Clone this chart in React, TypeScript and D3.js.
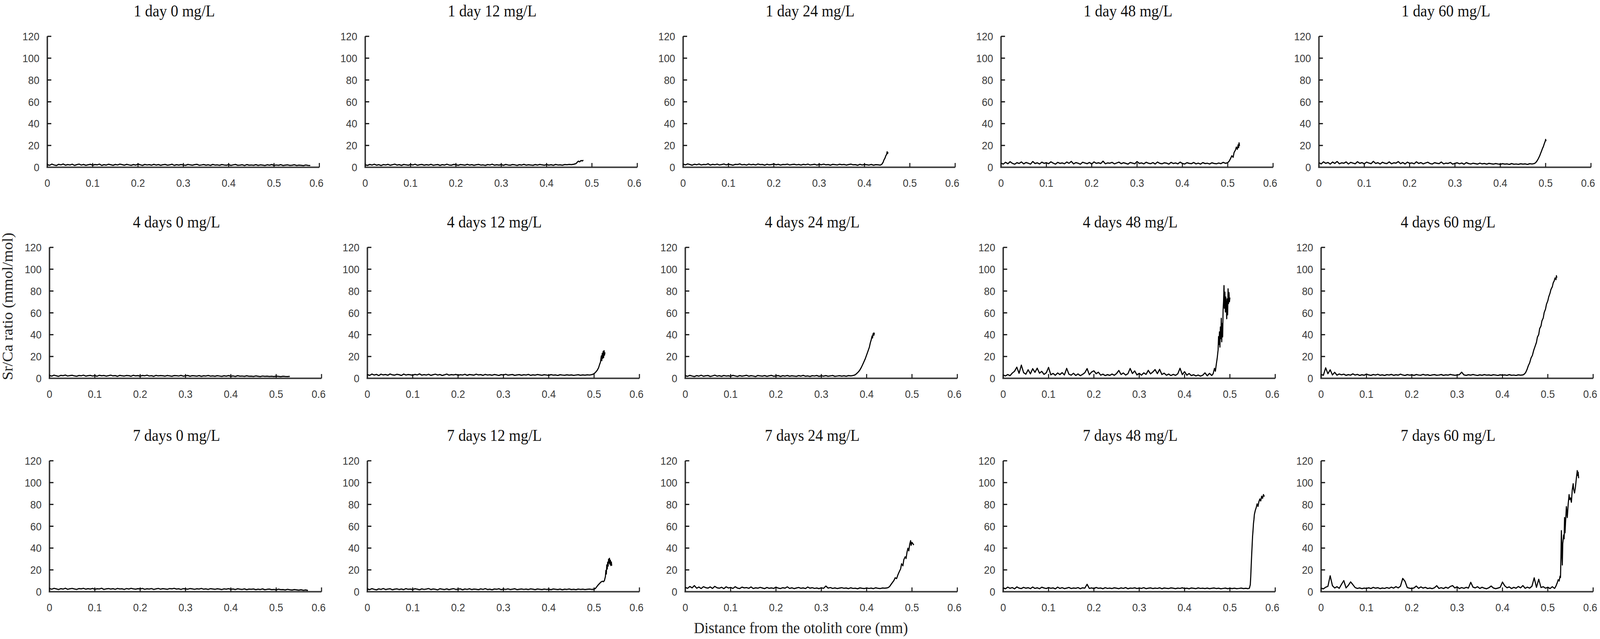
import React from "react";
import * as d3 from "d3";

// ---------- data (Sr/Ca ratio, mmol/mol) ----------
// base arrays: values every DX mm from 0; tail arrays: [distance mm, value] in the rising part
const DX = 0.005;

const days = ["1 day", "4 days", "7 days"];
const doses = ["0 mg/L", "12 mg/L", "24 mg/L", "48 mg/L", "60 mg/L"];
const xTicks = [0, 0.1, 0.2, 0.3, 0.4, 0.5, 0.6];
const yTicks = [0, 20, 40, 60, 80, 100, 120];

const base_1d_0 = [2.4,1.8,2.9,2.1,1.6,2.7,2.2,3.0,1.9,2.5,2.1,2.8,1.7,2.4,2.9,2.0,2.6,1.8,2.3,2.7,1.9,2.5,2.2,2.9,1.7,2.4,2.0,2.8,2.3,1.8,2.6,2.1,2.9,2.4,1.9,2.7,2.2,1.8,2.5,2.0,2.8,2.3,1.7,2.6,2.1,2.4,1.9,2.7,2.0,2.5,1.8,2.3,2.6,1.9,2.2,2.8,1.7,2.4,2.0,2.5,2.1,1.8,2.6,2.2,1.9,2.4,2.7,1.8,2.1,2.5,1.9,2.3,1.7,2.6,2.0,2.2,1.8,2.5,2.1,1.9,2.4,1.7,2.2,2.6,1.8,2.0,2.3,1.6,2.5,1.9,2.1,1.8,2.4,1.7,2.2,2.0,1.6,2.3,1.9,2.5,1.7,2.1,1.8,2.4,1.6,2.0,2.2,1.7,1.9,2.3,1.6,2.0,1.8,1.5,2.1,1.7,1.6];
const tail_1d_0: number[][] = [];

const base_1d_12 = [2.3,1.7,2.6,2.0,2.8,1.9,2.4,1.6,2.5,2.1,2.7,1.8,2.3,2.9,2.0,2.4,1.7,2.6,2.2,1.9,2.5,2.1,2.8,1.8,2.3,2.6,1.9,2.4,2.0,2.7,1.8,2.2,2.5,1.7,2.4,2.0,2.8,2.1,1.9,2.6,2.3,1.8,2.5,2.2,1.9,2.7,2.0,2.4,1.8,2.3,2.6,2.0,2.2,1.7,2.5,2.1,2.8,1.9,2.3,2.0,2.4,1.8,2.6,2.1,1.9,2.5,2.2,1.7,2.4,2.0,2.7,1.9,2.3,2.1,1.8,2.5,2.0,2.6,2.2,1.9,2.4,2.0,2.3,1.8,2.6,2.1,2.2,1.9,2.5,2.3,2.6,2.4,2.8];
const tail_1d_12 = [[0.465,3.4],[0.468,4.8],[0.47,5.6],[0.473,5.0],[0.476,6.2],[0.479,5.8],[0.481,6.6]];

const base_1d_24 = [2.9,2.2,3.1,2.5,1.9,2.8,2.3,3.0,2.1,2.6,2.4,3.2,2.0,2.7,2.3,2.9,2.1,2.5,3.0,2.2,2.8,2.4,1.9,2.7,2.5,3.1,2.2,2.6,2.0,2.9,2.3,2.7,2.1,3.0,2.4,2.6,1.9,2.8,2.2,2.5,3.0,2.3,2.7,2.0,2.6,2.4,2.9,2.1,2.5,2.8,2.2,2.6,2.0,2.7,2.3,2.9,2.1,2.4,2.8,2.0,2.6,2.3,2.9,2.2,2.5,1.9,2.7,2.4,2.1,2.8,2.3,2.6,2.0,2.5,2.9,2.2,2.4,1.8,2.7,2.1,2.5,2.3,2.0,2.6,1.9,2.4,2.2,2.0];
const tail_1d_24 = [[0.438,2.6],[0.441,4.5],[0.443,6.8],[0.445,8.2],[0.447,10.5],[0.449,12.0],[0.45,14.2],[0.451,12.6],[0.452,13.8]];

const base_1d_48 = [3.8,2.9,4.6,3.2,5.1,3.6,2.8,4.2,3.5,4.9,3.1,4.4,3.7,2.9,5.3,3.4,4.1,3.0,4.7,3.6,4.2,3.3,5.0,3.8,2.9,4.5,3.5,4.0,3.2,4.8,3.6,5.4,3.1,4.3,3.7,2.8,4.6,3.9,3.3,4.4,3.0,4.9,3.6,4.1,3.4,5.6,3.2,4.0,3.7,4.5,3.1,3.9,4.7,3.3,4.2,3.6,2.9,4.4,3.8,3.2,5.2,3.5,4.0,3.1,4.6,3.7,3.3,4.3,3.0,4.8,3.6,3.2,4.1,3.8,2.9,4.5,3.4,4.0,3.1,4.7,3.5,3.0,4.2,3.6,3.3,4.4,3.1,3.8,2.9,4.3,3.4,3.7,3.0,4.1,3.5,3.2,3.9,3.3,4.5,3.6,4.2];
const tail_1d_48 = [[0.503,5.5],[0.506,7.8],[0.509,10.5],[0.512,9.2],[0.514,13.5],[0.517,15.8],[0.519,18.5],[0.521,16.4],[0.523,20.6],[0.524,18.0],[0.525,22.4],[0.526,19.5]];

const base_1d_60 = [4.2,3.1,5.0,3.6,4.4,2.9,4.8,3.5,5.3,3.2,4.1,3.7,4.9,3.0,4.5,3.8,3.2,5.1,3.6,4.3,3.1,4.7,3.9,3.3,5.4,3.5,4.2,3.0,4.6,3.7,3.4,4.9,3.2,4.1,3.8,5.2,3.3,4.4,3.0,4.7,3.6,4.0,3.2,5.0,3.5,4.3,3.1,3.9,4.6,3.4,3.0,4.2,3.7,3.3,4.8,3.1,3.8,3.5,4.4,2.9,3.6,4.1,3.2,3.9,2.8,4.3,3.4,3.0,3.7,3.3,2.9,3.8,3.1,3.5,2.8,3.6,3.2,2.9,3.4,3.0,2.7,3.3,2.9,3.1,2.6,3.4,2.8,3.0,2.7,3.2,2.9,3.1,2.6,3.3,3.0,3.4];
const tail_1d_60 = [[0.478,4.2],[0.481,5.8],[0.484,8.0],[0.487,10.6],[0.489,12.8],[0.491,14.9],[0.493,17.2],[0.495,19.0],[0.497,21.6],[0.499,23.8],[0.5,25.5],[0.501,24.0]];

const base_4d_0 = [2.6,2.0,2.9,2.3,1.8,2.7,2.4,3.0,2.1,2.5,2.8,2.2,1.9,2.6,2.3,2.9,2.0,2.4,2.7,2.1,2.5,1.9,2.8,2.3,2.6,2.0,2.4,2.9,2.2,2.5,1.8,2.7,2.3,2.1,2.6,2.4,1.9,2.8,2.2,2.5,2.0,2.6,2.3,2.9,2.1,2.4,1.8,2.7,2.2,2.5,2.3,2.0,2.6,2.2,1.9,2.5,2.4,2.1,2.7,2.0,2.3,2.6,1.9,2.4,2.2,2.0,2.5,1.8,2.3,2.1,2.6,2.0,2.2,1.9,2.4,2.1,1.8,2.3,2.0,2.5,1.9,2.2,1.7,2.4,2.0,2.1,1.8,2.3,1.9,2.0,1.7,2.2,1.9,1.6,2.1,1.8,2.0,1.7,1.9,1.6,2.0,1.8,1.5,1.9,1.7,1.6,1.8];
const tail_4d_0: number[][] = [];

const base_4d_12 = [3.4,2.7,3.9,3.0,3.6,2.5,3.8,3.1,3.5,2.8,4.0,3.2,2.9,3.7,3.3,2.6,3.9,3.0,3.5,3.2,2.8,3.6,3.1,4.1,2.9,3.4,3.0,3.7,2.7,3.3,3.8,3.0,3.5,2.6,3.2,3.9,2.9,3.4,3.1,3.6,2.8,3.3,3.0,3.7,2.7,3.5,3.2,2.9,3.8,3.1,3.4,2.7,3.6,3.0,3.3,2.8,3.5,3.1,2.6,3.4,3.0,3.7,2.9,3.2,3.5,2.7,3.1,3.4,2.8,3.3,3.0,3.6,2.7,3.2,2.9,3.5,3.1,2.8,3.3,3.0,2.7,3.4,2.9,3.1,2.6,3.3,3.0,2.8,3.2,2.9,3.1,2.7,3.0,3.3,2.8,3.1,2.9,3.2,3.0,3.4];
const tail_4d_12 = [[0.498,3.8],[0.501,4.6],[0.504,5.9],[0.507,7.4],[0.51,9.8],[0.512,12.5],[0.514,14.8],[0.516,20.5],[0.517,16.2],[0.518,22.8],[0.519,18.4],[0.52,24.6],[0.521,19.0],[0.522,25.3],[0.523,21.2],[0.524,23.8]];

const base_4d_24 = [2.4,1.8,2.7,2.1,1.6,2.5,2.0,2.8,1.9,2.3,2.6,1.7,2.2,2.9,2.0,2.4,1.8,2.6,2.1,2.3,1.9,2.7,2.2,1.7,2.5,2.0,2.3,2.8,1.9,2.4,2.1,1.6,2.6,2.2,2.0,2.5,1.8,2.3,2.7,1.9,2.2,2.5,1.7,2.4,2.0,2.6,1.9,2.3,2.1,1.8,2.5,2.0,2.7,1.9,2.2,1.7,2.4,2.1,2.6,1.8,2.3,2.0,2.5,1.9,2.2,2.6,1.8,2.1,2.4,2.0,2.3,1.9,2.5,2.2,2.6];
const tail_4d_24 = [[0.373,2.9],[0.376,3.6],[0.379,4.8],[0.382,6.0],[0.385,7.6],[0.388,9.8],[0.391,12.4],[0.394,15.2],[0.397,18.0],[0.4,21.5],[0.403,25.0],[0.406,28.6],[0.408,32.4],[0.41,35.2],[0.412,38.8],[0.413,37.0],[0.414,40.6],[0.415,41.4],[0.416,39.5],[0.417,41.8]];

const base_4d_48 = [3.0,2.2,3.5,2.4,4.8,6.5,10.2,4.6,12.1,5.2,3.8,7.9,4.1,8.8,5.5,9.3,4.7,6.4,3.6,5.1,10.0,3.2,4.5,2.8,4.9,3.4,5.2,3.1,9.1,3.7,2.9,4.6,2.6,4.0,2.4,3.6,5.1,8.9,3.3,5.8,6.9,4.2,5.6,2.9,3.8,2.5,3.4,2.7,3.9,2.8,4.4,7.2,3.5,4.9,3.0,4.2,9.0,4.4,6.8,3.1,4.6,2.9,5.0,3.6,7.3,4.1,5.8,8.0,4.3,8.2,3.5,4.7,2.8,3.9,2.5,3.6,2.7,4.1,9.2,3.4,6.1,2.9,4.4,2.5,3.3,2.2,3.0,2.0,2.8,5.0,2.3,4.5,2.6];
const tail_4d_48 = [[0.463,4.2],[0.466,9.1],[0.468,6.5],[0.47,12.8],[0.472,18.5],[0.474,26.0],[0.475,38.2],[0.476,31.0],[0.477,42.5],[0.478,28.6],[0.479,47.0],[0.48,36.4],[0.481,55.0],[0.482,33.5],[0.483,50.2],[0.484,38.0],[0.485,62.5],[0.486,70.4],[0.487,85.0],[0.488,64.2],[0.489,79.0],[0.49,60.8],[0.491,74.5],[0.492,66.0],[0.493,54.6],[0.494,72.8],[0.495,58.2],[0.496,82.0],[0.497,68.5],[0.498,78.6],[0.499,70.2],[0.5,74.0]];

const base_4d_60 = [3.5,2.8,9.6,4.2,7.8,3.1,5.5,2.9,4.0,3.2,3.8,2.7,3.4,2.9,4.1,3.0,3.6,2.6,3.3,2.8,3.9,3.1,2.7,3.5,3.0,3.7,2.8,3.2,2.6,3.4,3.0,3.6,2.7,3.3,2.9,3.8,3.1,2.6,3.4,2.9,3.2,2.7,3.5,3.0,2.8,3.6,2.9,3.3,2.6,3.1,3.4,2.8,3.0,3.5,2.7,3.2,2.9,3.6,3.1,2.8,3.0,3.4,5.6,3.1,2.7,3.3,2.9,3.5,3.0,2.6,3.2,2.8,3.4,2.9,3.1,2.7,3.3,3.0,2.6,3.2,2.9,3.1,2.7,3.4,2.8,3.0,2.6,3.2,2.9,3.1];
const tail_4d_60 = [[0.448,3.8],[0.451,5.2],[0.454,7.9],[0.457,11.5],[0.46,14.2],[0.463,18.6],[0.466,21.0],[0.469,25.8],[0.472,29.4],[0.475,33.0],[0.477,37.6],[0.48,40.2],[0.482,45.5],[0.485,48.0],[0.487,52.6],[0.49,55.4],[0.492,60.2],[0.495,63.5],[0.497,67.8],[0.5,71.0],[0.502,74.6],[0.505,78.2],[0.507,81.5],[0.51,84.0],[0.512,87.6],[0.514,89.2],[0.516,92.0],[0.518,90.5],[0.519,94.0],[0.52,92.2]];

const base_7d_0 = [2.9,2.3,3.1,2.6,2.0,2.8,2.4,3.2,2.2,2.7,3.0,2.5,2.1,2.9,2.6,3.1,2.3,2.8,2.4,3.0,2.2,2.7,2.5,3.2,2.1,2.6,2.9,2.4,2.8,2.2,3.0,2.5,2.7,2.1,2.9,2.4,3.1,2.6,2.3,2.8,2.5,3.0,2.2,2.7,2.4,2.9,2.1,2.6,3.0,2.3,2.8,2.5,2.2,2.9,2.6,3.1,2.4,2.7,2.1,2.8,2.5,2.3,2.9,2.6,2.2,2.7,2.4,3.0,2.3,2.6,2.1,2.8,2.5,2.2,2.7,2.4,2.0,2.6,2.3,2.8,2.2,2.5,2.0,2.7,2.3,2.1,2.6,1.9,2.4,2.2,2.5,1.9,2.3,2.0,2.6,1.8,2.2,2.4,1.9,2.1,1.7,2.3,1.9,2.0,1.6,2.2,1.8,1.5,2.0,1.7,1.4,1.8,1.3,1.6,1.2];
const tail_7d_0: number[][] = [];

const base_7d_12 = [2.5,1.9,2.8,2.2,1.7,2.6,2.1,2.9,2.0,2.4,2.7,1.8,2.3,2.6,2.0,2.5,1.9,2.8,2.2,2.4,2.0,2.7,2.3,1.8,2.6,2.1,2.4,2.9,2.0,2.5,2.2,1.7,2.7,2.3,2.0,2.6,1.9,2.4,2.8,2.1,2.3,2.6,1.8,2.5,2.1,2.7,2.0,2.4,2.2,1.9,2.6,2.1,2.8,2.0,2.3,1.8,2.5,2.2,2.7,1.9,2.4,2.1,2.6,2.0,2.3,2.7,1.9,2.2,2.5,2.1,2.4,2.0,2.6,2.3,1.9,2.5,2.2,2.0,2.4,2.1,2.3,1.9,2.5,2.2,2.0,2.4,1.8,2.3,2.1,2.5,2.0,2.2,1.9,2.4,2.1,2.3,2.0,2.2,2.4,2.1,2.3];
const tail_7d_12 = [[0.503,3.0],[0.506,4.6],[0.509,6.2],[0.512,7.5],[0.515,8.8],[0.518,9.6],[0.521,9.2],[0.523,10.5],[0.525,14.0],[0.526,19.5],[0.527,16.2],[0.528,24.5],[0.529,20.8],[0.53,27.0],[0.531,23.5],[0.532,29.8],[0.533,26.4],[0.534,30.6],[0.535,25.2],[0.536,28.8],[0.537,24.0],[0.538,27.2],[0.539,23.8]];

const base_7d_24 = [4.0,3.1,4.8,3.5,5.6,3.2,4.3,2.9,4.6,3.7,3.3,4.4,3.0,4.9,3.6,3.2,4.1,2.8,4.5,3.4,3.9,3.0,4.6,3.3,2.9,4.2,3.5,3.8,3.1,4.4,2.9,3.6,3.2,4.0,3.4,2.8,3.9,3.1,3.5,3.0,4.2,3.3,2.9,3.7,3.2,4.5,3.0,3.6,2.8,3.4,3.9,3.1,3.5,2.9,4.3,3.2,3.7,3.0,3.4,2.8,3.6,3.1,5.2,3.3,3.8,3.0,3.5,2.9,3.3,3.7,3.1,3.4,2.8,3.6,3.0,3.2,2.7,3.5,3.1,2.9,3.4,3.0,3.3,2.8,3.6,3.1,2.9,3.4,3.2,3.5];
const tail_7d_24 = [[0.448,3.9],[0.451,5.0],[0.454,6.8],[0.457,8.5],[0.46,10.2],[0.463,12.8],[0.466,12.0],[0.469,15.5],[0.472,18.4],[0.475,21.0],[0.477,25.6],[0.48,23.8],[0.482,29.4],[0.485,32.0],[0.487,30.5],[0.489,36.2],[0.491,39.8],[0.493,37.5],[0.495,43.6],[0.497,46.8],[0.498,42.5],[0.5,45.2],[0.502,44.0],[0.504,42.8]];

const base_7d_48 = [3.5,2.7,4.2,3.1,3.8,2.6,4.4,3.3,2.9,4.0,3.2,3.7,2.8,4.3,3.0,3.6,2.7,4.1,3.4,2.9,3.8,3.1,3.5,2.6,4.2,3.0,3.7,2.8,3.3,3.9,2.9,3.4,3.1,3.8,2.7,3.6,3.2,6.8,3.0,3.5,2.8,3.9,3.1,3.4,2.7,3.7,3.0,3.3,2.9,3.6,3.2,2.8,3.5,3.0,3.8,2.7,3.3,3.1,3.6,2.9,3.4,3.0,3.7,2.8,3.2,3.5,2.9,3.3,3.0,3.6,2.7,3.4,3.1,2.9,3.5,3.2,2.8,3.3,3.0,3.6,2.9,3.2,2.7,3.4,3.1,2.8,3.5,3.0,3.2,2.9,3.3,2.8,3.1,3.4,2.9,3.2,2.7,3.0,3.3,2.8,3.1,2.9,3.2,2.8,3.0,3.3,2.9,3.1,2.8];
const tail_7d_48 = [[0.543,3.2],[0.545,6.5],[0.546,14.0],[0.547,24.0],[0.548,33.5],[0.549,42.0],[0.55,50.6],[0.551,56.0],[0.552,62.5],[0.553,66.0],[0.554,70.8],[0.556,74.5],[0.558,77.0],[0.56,80.5],[0.562,78.2],[0.564,82.6],[0.566,85.0],[0.568,83.2],[0.57,87.5],[0.572,85.6],[0.574,89.0],[0.576,87.2]];

const base_7d_60 = [3.2,2.6,4.1,5.0,14.6,5.5,3.4,4.6,3.1,6.8,10.2,3.5,5.8,9.0,6.5,3.8,3.0,3.5,2.8,3.3,3.0,3.6,2.9,4.0,3.2,3.7,2.8,3.4,3.0,3.8,3.1,4.2,3.3,4.6,3.5,5.0,12.2,9.6,3.8,3.2,2.9,3.5,5.2,3.1,4.4,3.3,4.0,2.9,3.4,2.8,3.6,5.5,3.0,3.7,2.9,4.1,3.2,4.8,5.6,3.4,4.5,2.9,3.8,3.1,4.0,3.3,8.6,4.2,3.5,4.6,3.0,4.1,3.2,2.7,3.6,5.2,3.4,2.8,3.3,4.0,8.8,5.4,3.6,4.4,2.9,4.0,3.2,4.8,3.5,5.6,3.1,4.2,3.3,5.0,12.7,4.0,11.4,3.8,4.6,3.2,4.1,2.9,4.6,3.0];
const tail_7d_60 = [[0.518,5.2],[0.521,8.4],[0.523,11.0],[0.525,9.8],[0.527,14.2],[0.528,13.0],[0.529,32.0],[0.53,56.0],[0.531,38.0],[0.532,24.5],[0.533,44.0],[0.535,52.0],[0.536,48.5],[0.537,68.0],[0.538,54.0],[0.539,62.5],[0.541,78.0],[0.542,72.5],[0.543,68.0],[0.545,80.5],[0.547,89.0],[0.548,84.5],[0.55,86.0],[0.552,82.0],[0.554,93.5],[0.556,99.0],[0.557,94.0],[0.559,90.5],[0.561,96.0],[0.563,104.0],[0.565,111.0],[0.566,106.5],[0.567,109.5],[0.568,104.0]];

const seriesGrid = [
  [[base_1d_0, tail_1d_0], [base_1d_12, tail_1d_12], [base_1d_24, tail_1d_24], [base_1d_48, tail_1d_48], [base_1d_60, tail_1d_60]],
  [[base_4d_0, tail_4d_0], [base_4d_12, tail_4d_12], [base_4d_24, tail_4d_24], [base_4d_48, tail_4d_48], [base_4d_60, tail_4d_60]],
  [[base_7d_0, tail_7d_0], [base_7d_12, tail_7d_12], [base_7d_24, tail_7d_24], [base_7d_48, tail_7d_48], [base_7d_60, tail_7d_60]],
] as [number[], number[][]][][];

// ---------- layout ----------
const W = 4429;
const H = 1635;
const PW = 753;
const PH = 335;
const COL_X0 = 137;
const COL_PITCH = 880;
const ROW_DX = [-6, 0, 0];
const ROW_TOP = [93, 633, 1179];

const SERIF = "'Liberation Serif', 'Times New Roman', serif";
const SANS = "'Liberation Sans', Arial, sans-serif";

const x = d3.scaleLinear().domain([0, 0.6]).range([0, PW]);
const y = d3.scaleLinear().domain([0, 120]).range([PH, 0]);
const line = d3
  .line<number[]>()
  .x((d) => x(d[0]))
  .y((d) => y(d[1]));

function Panel({ r, c }: { r: number; c: number }) {
  const [base, tail] = seriesGrid[r][c];
  const pts: number[][] = base.map((v, i) => [i * DX, v]).concat(tail);
  const tx = COL_X0 + c * COL_PITCH + ROW_DX[r];
  const ty = ROW_TOP[r];
  return (
    <g transform={`translate(${tx},${ty})`}>
      <text
        x={PW / 2 - 25}
        y={-51}
        textAnchor="middle"
        fontFamily={SERIF}
        fontSize={42}
        fill="#111"
      >
        {`${days[r]} ${doses[c]}`}
      </text>
      {/* y axis */}
      <line x1={0} x2={0} y1={y(120)} y2={y(0) + 2} stroke="#333" strokeWidth={4} />
      {yTicks.map((t) => (
        <g key={`y${t}`}>
          <line x1={0} x2={11} y1={y(t)} y2={y(t)} stroke="#111" strokeWidth={3} />
          <text
            x={-22}
            y={y(t)}
            dy="0.36em"
            textAnchor="end"
            fontFamily={SANS}
            fontSize={28}
            fill="#3a3a3a"
          >
            {t}
          </text>
        </g>
      ))}
      {/* x axis */}
      <line x1={-2} x2={PW} y1={y(0)} y2={y(0)} stroke="#444" strokeWidth={4} />
      {xTicks.map((t) => (
        <g key={`x${t}`}>
          <line x1={x(t)} x2={x(t)} y1={y(0)} y2={y(0) - 11} stroke="#222" strokeWidth={3} />
          <text
            x={Math.min(x(t), PW - 8)}
            y={y(0) + 50}
            textAnchor="middle"
            fontFamily={SANS}
            fontSize={28}
            fill="#3a3a3a"
          >
            {String(t)}
          </text>
        </g>
      ))}
      <path
        d={line(pts) || ""}
        fill="none"
        stroke="#000"
        strokeWidth={3}
        strokeLinejoin="round"
      />
    </g>
  );
}

export default function App() {
  return (
    <svg
      viewBox={`0 0 ${W} ${H}`}
      preserveAspectRatio="none"
      style={{
        position: "fixed",
        left: 0,
        top: 0,
        width: "100vw",
        height: "100vh",
        background: "#fff",
        display: "block",
      }}
    >
      <rect x={0} y={0} width={W} height={H} fill="#fff" />
      {days.map((_, r) =>
        doses.map((__, c) => <Panel key={`${r}-${c}`} r={r} c={c} />)
      )}
      <text
        transform="translate(35,784) rotate(-90)"
        textAnchor="middle"
        fontFamily={SERIF}
        fontSize={40}
        fill="#222"
      >
        Sr/Ca ratio (mmol/mol)
      </text>
      <text
        x={2217}
        y={1620}
        textAnchor="middle"
        fontFamily={SERIF}
        fontSize={41}
        fill="#222"
      >
        Distance from the otolith core (mm)
      </text>
    </svg>
  );
}
